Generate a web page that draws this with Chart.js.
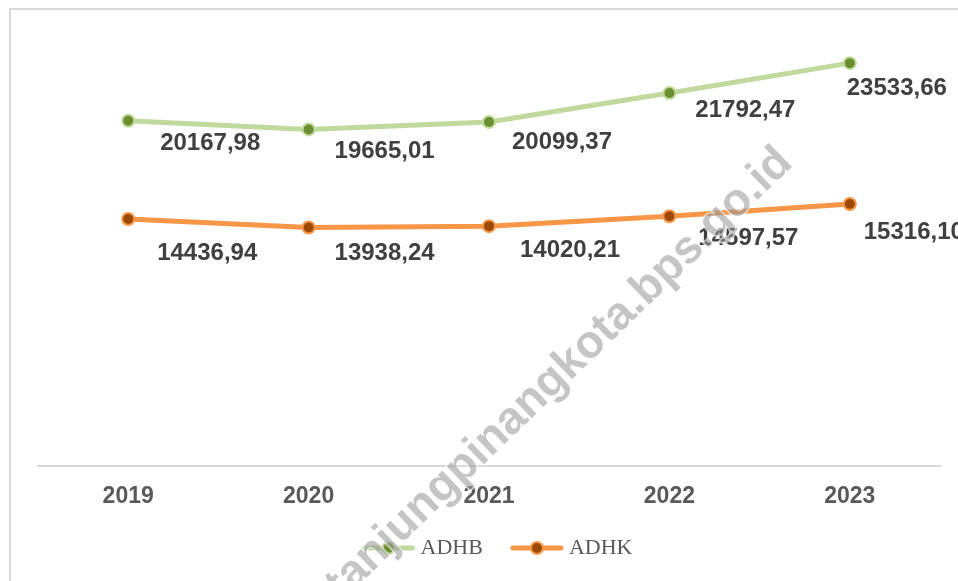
<!DOCTYPE html>
<html>
<head>
<meta charset="utf-8">
<script src="https://cdn.jsdelivr.net/npm/chart.js@4.4.1/dist/chart.umd.min.js"></script>
<style>
  html, body { margin: 0; padding: 0; background: #fff; }
  #wrap { width: 958px; height: 581px; overflow: hidden; }
</style>
</head>
<body>
<div id="wrap"><canvas id="pdrbChart" width="958" height="581"></canvas></div>
<script>
// data
const tahun = ["2019", "2020", "2021", "2022", "2023"];
const adhb = [20167.98, 19665.01, 20099.37, 21792.47, 23533.66];
const adhk = [14436.94, 13938.24, 14020.21, 14597.57, 15316.10];
const seriesNames = ["ADHB", "ADHK"];
const watermark = "tanjungpinangkota.bps.go.id";

// label offsets from each point (centre of text), as placed in the original
const adhbLabelShift = [[82, 23], [76, 22], [73, 20], [76, 17], [47, 25]];
const adhkLabelShift = [[79, 34], [76, 26], [81, 24], [79, 22], [64, 28]];

function formatID(v) {
    return v.toFixed(2).replace(".", ",");
}

// legend marker: line with a dot in the middle (drawn right of centre so the gaps match)
function legendMarker(lineColor, dotColor) {
    const c = document.createElement("canvas");
    c.width = 80;
    c.height = 16;
    const g = c.getContext("2d");
    g.strokeStyle = lineColor;
    g.lineWidth = 5;
    g.lineCap = "round";
    g.beginPath();
    g.moveTo(27, 8);
    g.lineTo(75, 8);
    g.stroke();
    g.beginPath();
    g.arc(51, 8, 6, 0, Math.PI * 2);
    g.fillStyle = dotColor;
    g.fill();
    g.lineWidth = 2;
    g.strokeStyle = lineColor;
    g.stroke();
    return c;
}

const frameBox = {
    id: "frameBox",
    beforeDraw(chart) {
        const ctx = chart.ctx;
        ctx.save();
        ctx.fillStyle = "#ffffff";
        ctx.fillRect(0, 0, chart.width, chart.height);
        ctx.strokeStyle = "#D9D9D9";
        ctx.lineWidth = 2;
        ctx.strokeRect(10, 9, 2000, 2000);
        ctx.restore();
    }
};

const valueLabels = {
    id: "valueLabels",
    afterDatasetsDraw(chart) {
        const ctx = chart.ctx;
        ctx.save();
        ctx.font = "bold 24px 'Liberation Sans', Arial, sans-serif";
        ctx.fillStyle = "#404040";
        ctx.textAlign = "center";
        ctx.textBaseline = "middle";
        chart.data.datasets.forEach((ds, di) => {
            const meta = chart.getDatasetMeta(di);
            meta.data.forEach((pt, i) => {
                const s = ds.labelShift[i];
                ctx.fillText(formatID(ds.data[i]), pt.x + s[0], pt.y + s[1]);
            });
        });
        ctx.restore();
    }
};

const stamp = {
    id: "stamp",
    afterDraw(chart) {
        const ctx = chart.ctx;
        ctx.save();
        ctx.translate(568, 383);
        ctx.rotate(-44 * Math.PI / 180);
        ctx.font = "bold 46px 'Liberation Sans', Arial, sans-serif";
        ctx.textAlign = "center";
        ctx.textBaseline = "alphabetic";
        ctx.lineWidth = 2;
        ctx.strokeStyle = "rgba(255,255,255,0.7)";
        ctx.strokeText(watermark, 0, 0);
        ctx.fillStyle = "rgba(150,150,150,0.55)";
        ctx.fillText(watermark, 0, 0);
        ctx.restore();
    }
};

const ctx = document.getElementById("pdrbChart").getContext("2d");
new Chart(ctx, {
    type: "line",
    data: {
        labels: tahun,
        datasets: [
            {
                label: seriesNames[0],
                data: adhb,
                borderColor: "#C0DA9E",
                borderWidth: 5,
                pointStyle: "circle",
                pointBackgroundColor: "#6B8E2F",
                pointBorderColor: "#C0DA9E",
                pointBorderWidth: 2,
                pointRadius: 6,
                legendIcon: legendMarker("#C0DA9E", "#6B8E2F"),
                labelShift: adhbLabelShift,
                fill: false
            },
            {
                label: seriesNames[1],
                data: adhk,
                borderColor: "#F79646",
                borderWidth: 5,
                pointStyle: "circle",
                pointBackgroundColor: "#9C4A06",
                pointBorderColor: "#F79646",
                pointBorderWidth: 2,
                pointRadius: 6,
                legendIcon: legendMarker("#F79646", "#9C4A06"),
                labelShift: adhkLabelShift,
                fill: false
            }
        ]
    },
    options: {
        responsive: false,
        animation: false,
        devicePixelRatio: 1,
        layout: { padding: { top: 38, left: 38, right: 18, bottom: 12 } },
        scales: {
            x: {
                offset: true,
                grid: { display: false, drawTicks: false },
                border: { display: true, color: "#D9D9D9", width: 2 },
                ticks: {
                    color: "#595959",
                    padding: 16,
                    font: { family: "'Liberation Sans', Arial, sans-serif", size: 23, weight: "bold" }
                }
            },
            y: {
                display: false,
                min: 0,
                max: 25000
            }
        },
        plugins: {
            legend: {
                position: "bottom",
                labels: {
                    usePointStyle: true,
                    pointStyleWidth: 64,
                    padding: 11,
                    color: "#595959",
                    font: { family: "'Liberation Serif', 'Times New Roman', serif", size: 22 },
                    generateLabels(chart) {
                        return chart.data.datasets.map((ds, i) => ({
                            text: ds.label,
                            pointStyle: ds.legendIcon,
                            fillStyle: ds.borderColor,
                            strokeStyle: ds.borderColor,
                            lineWidth: 0,
                            fontColor: "#595959",
                            hidden: false,
                            datasetIndex: i
                        }));
                    }
                }
            },
            tooltip: { enabled: false }
        }
    },
    plugins: [frameBox, valueLabels, stamp]
});
</script>
</body>
</html>
